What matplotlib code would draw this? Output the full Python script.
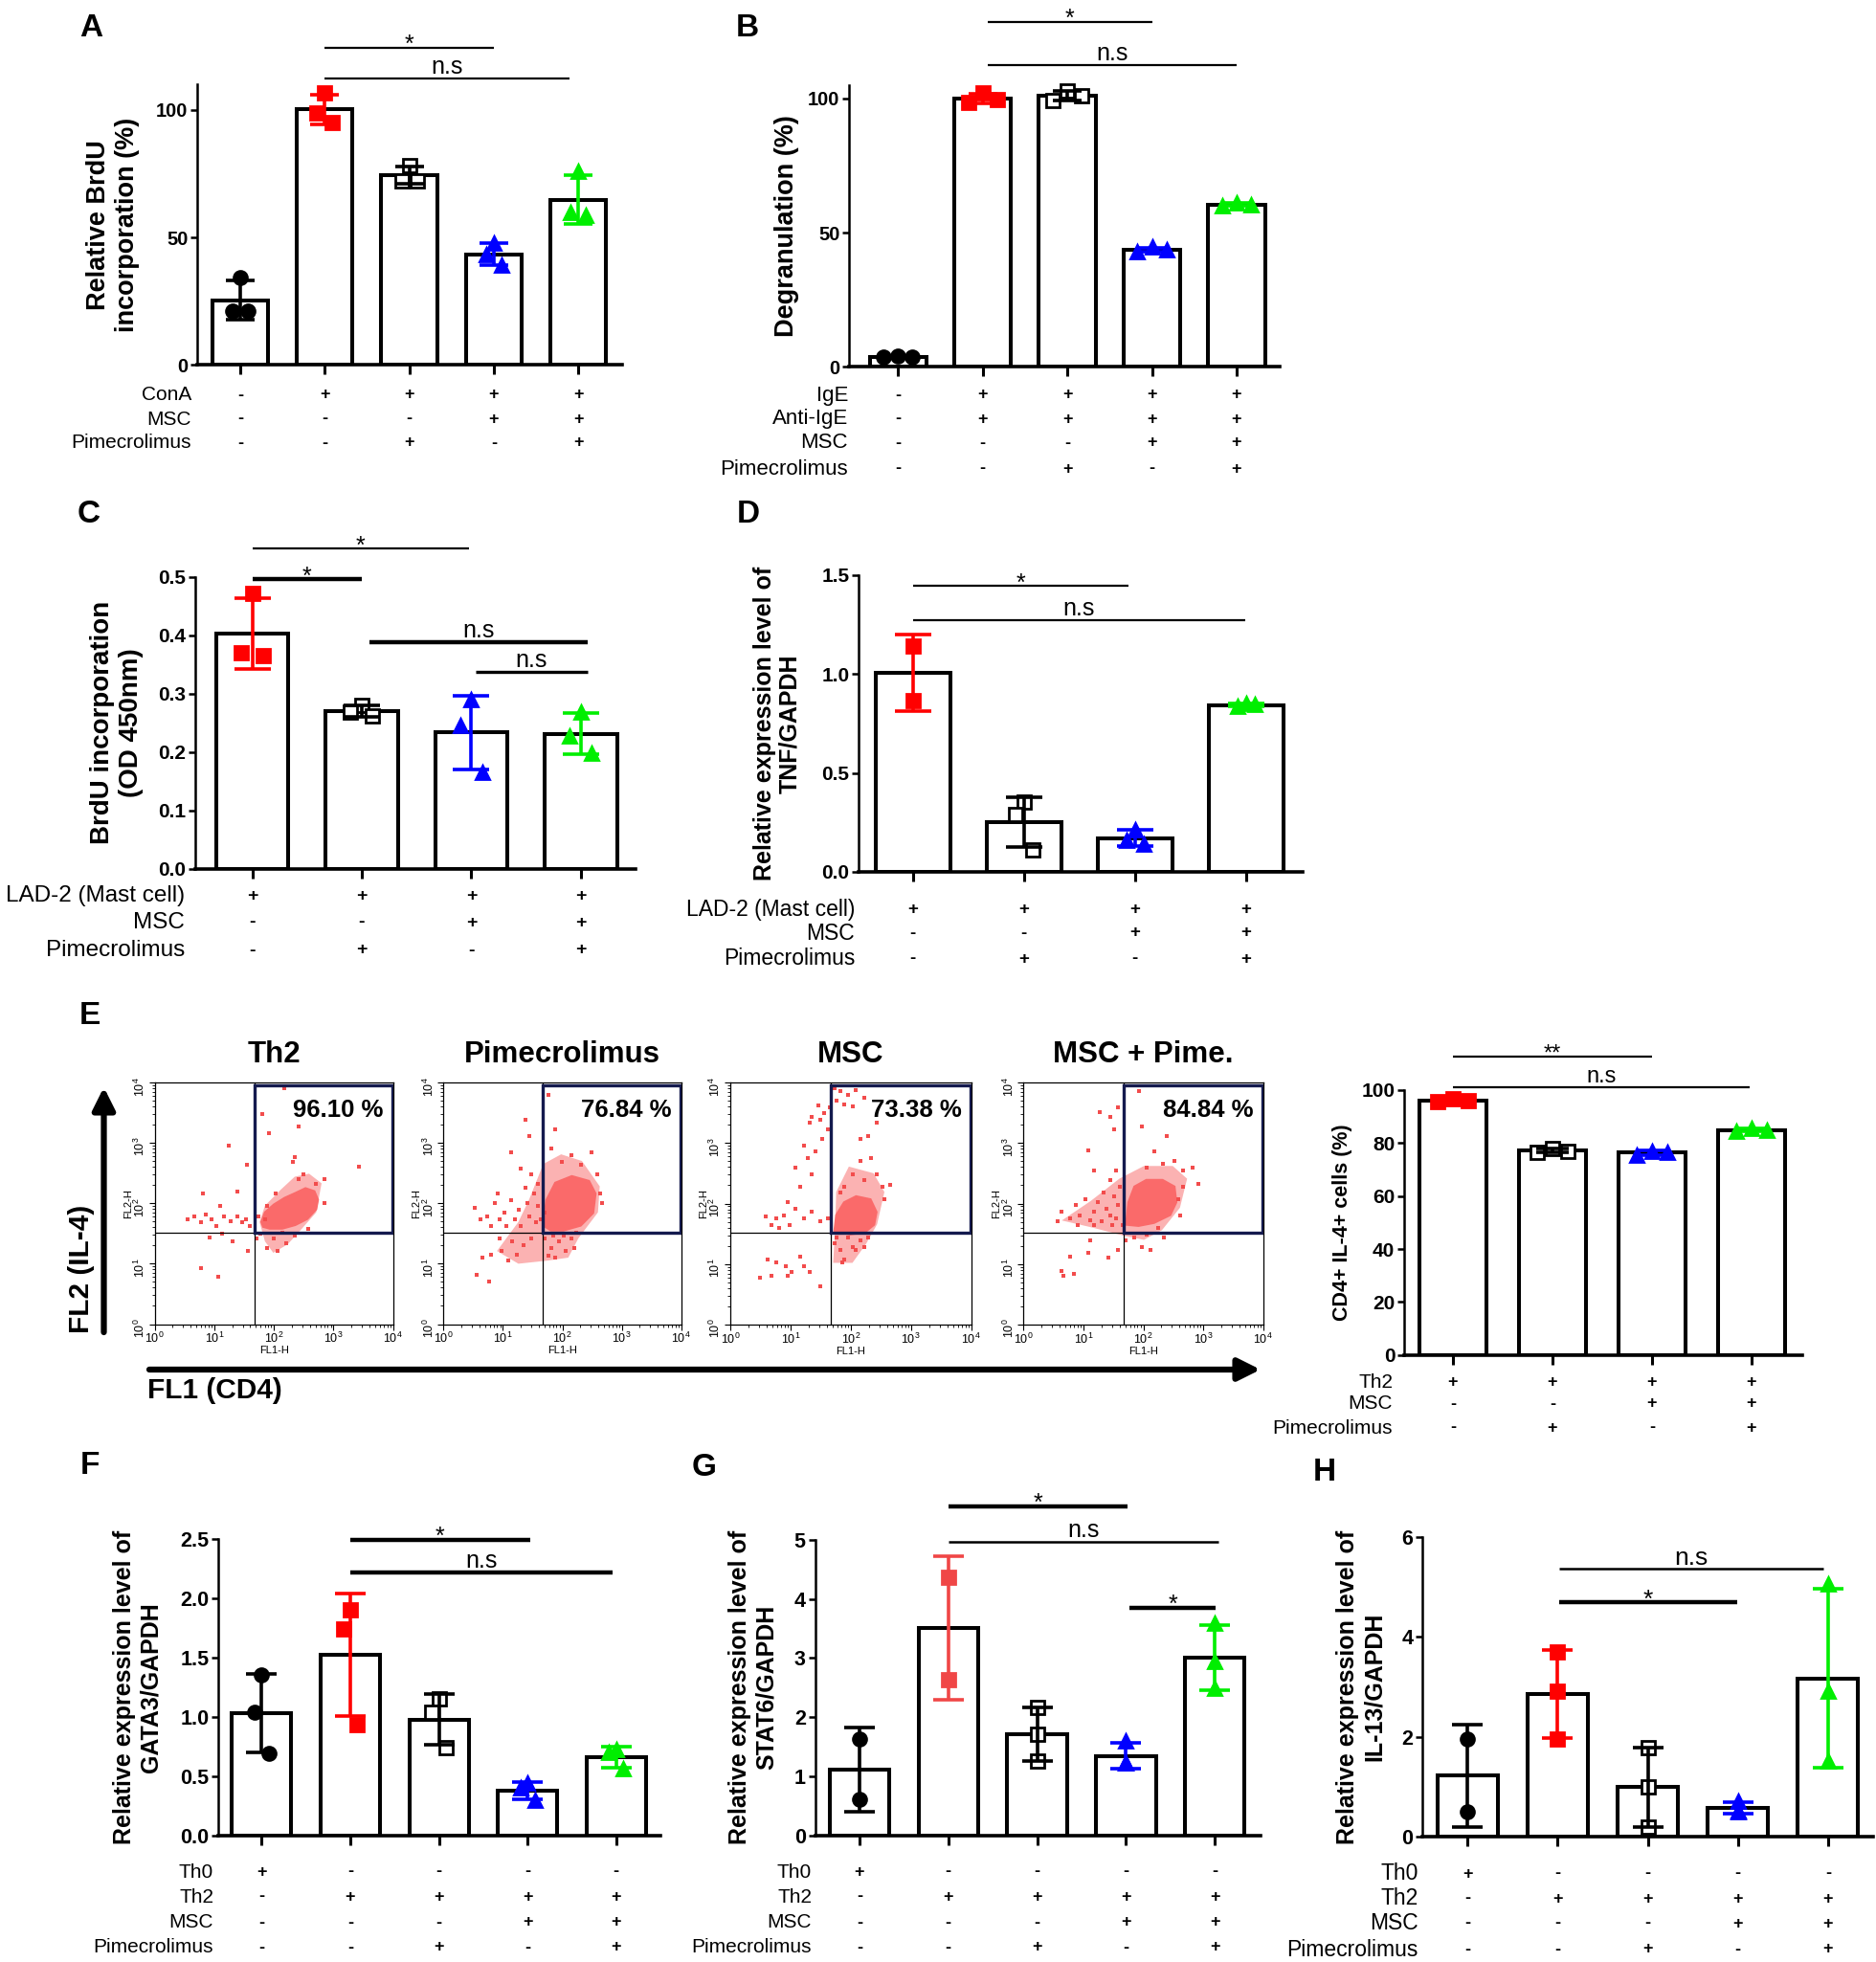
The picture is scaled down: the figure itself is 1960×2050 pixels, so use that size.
import numpy as np
import matplotlib
matplotlib.use("Agg")
import matplotlib.pyplot as plt
from matplotlib import font_manager, transforms
from matplotlib.patches import Rectangle, FancyArrowPatch, ArrowStyle

# ============================ DATA ============================
# Panel A
A_rows = ["ConA", "MSC", "Pimecrolimus"]
A_signs = [["-", "+", "+", "+", "+"],
           ["-", "-", "-", "+", "+"],
           ["-", "-", "+", "-", "+"]]
A_points = [[34.4, 21.0, 21.0], [106.5, 98.9, 95.1], [78.3, 72.3, 72.3],
            [47.9, 43.4, 39.0], [75.9, 59.6, 58.8]]
A_yticks = [0, 50, 100]
A_ylabel = "Relative BrdU\nincorporation (%)"

# Panel B
B_rows = ["IgE", "Anti-IgE", "MSC", "Pimecrolimus"]
B_signs = [["-", "+", "+", "+", "+"],
           ["-", "+", "+", "+", "+"],
           ["-", "-", "-", "+", "+"],
           ["-", "-", "+", "-", "+"]]
B_points = [[4.0, 3.5, 3.8], [102.0, 98.5, 99.5], [102.8, 99.2, 101.0],
            [44.5, 43.0, 43.5], [61.0, 60.0, 60.5]]
B_yticks = [0, 50, 100]
B_ylabel = "Degranulation (%)"

# Panel C
C_rows = ["LAD-2 (Mast cell)", "MSC", "Pimecrolimus"]
C_signs = [["+", "+", "+", "+"],
           ["-", "-", "+", "+"],
           ["-", "+", "-", "+"]]
C_points = [[0.472, 0.370, 0.365], [0.280, 0.268, 0.262],
            [0.290, 0.245, 0.165], [0.268, 0.228, 0.198]]
C_yticks = [0.0, 0.1, 0.2, 0.3, 0.4, 0.5]
C_ylabel = "BrdU incorporation\n(OD 450nm)"

# Panel D
D_rows = ["LAD-2 (Mast cell)", "MSC", "Pimecrolimus"]
D_signs = [["+", "+", "+", "+"],
           ["-", "-", "+", "+"],
           ["-", "+", "-", "+"]]
D_points = [[1.142, 0.868], [0.355, 0.29, 0.11], [0.215, 0.16, 0.14],
            [0.85, 0.835, 0.845]]
D_yticks = [0.0, 0.5, 1.0, 1.5]
D_ylabel = "Relative expression level of\nTNF/GAPDH"

# Panel E (bar chart)
E_rows = ["Th2", "MSC", "Pimecrolimus"]
E_signs = [["+", "+", "+", "+"],
           ["-", "-", "+", "+"],
           ["-", "+", "-", "+"]]
E_points = [[96.8, 95.8, 96.0], [78.0, 76.5, 77.0], [77.0, 75.5, 76.5],
            [85.5, 84.5, 85.0]]
E_yticks = [0, 20, 40, 60, 80, 100]
E_ylabel = "CD4+ IL-4+ cells (%)"

# Panel E (flow cytometry)
flow_titles = ["Th2", "Pimecrolimus", "MSC", "MSC + Pime."]
flow_pcts = ["96.10 %", "76.84 %", "73.38 %", "84.84 %"]
flow_gate_fl1 = 47
flow_gate_fl2 = 33

# outlines of dense core / medium-density halo, and individual dots,
# all as log10(FL1-H), log10(FL2-H)
th2_core_x = [1.79, 1.85, 2.00, 2.18, 2.36, 2.53, 2.68, 2.74, 2.71, 2.56,
              2.36, 2.14, 1.93, 1.82]
th2_core_y = [1.69, 1.85, 1.98, 2.09, 2.17, 2.25, 2.20, 2.06, 1.90, 1.74,
              1.64, 1.58, 1.58, 1.61]
th2_halo_x = [1.76, 1.85, 1.99, 2.23, 2.47, 2.71, 2.80, 2.59, 2.35, 2.11, 1.85]
th2_halo_y = [1.69, 1.37, 1.18, 1.32, 1.58, 1.85, 2.33, 2.49, 2.44, 2.22, 1.96]
th2_dot_x = [0.56, 0.67, 0.77, 0.85, 0.95, 1.03, 1.10, 1.17, 1.28, 1.38,
             1.46, 1.53, 1.60, 0.92, 1.13, 1.31, 0.77, 1.06, 1.56, 0.81,
             1.38, 1.24, 1.55, 1.81, 1.92, 2.17, 2.35, 2.42, 2.32, 2.49,
             3.43, 2.85, 1.71, 1.89, 2.06, 2.21, 1.99, 2.35, 1.78, 2.14,
             2.57, 2.85, 2.71, 2.42, 1.85, 1.74, 1.89, 2.03]
th2_dot_y = [1.74, 1.79, 1.68, 1.81, 1.74, 1.63, 1.95, 1.79, 1.71, 1.79,
             1.68, 1.74, 1.63, 1.44, 1.50, 1.37, 0.92, 0.79, 1.21, 2.17,
             2.19, 2.95, 2.63, 3.48, 3.16, 3.90, 2.77, 3.27, 2.69, 2.48,
             2.61, 2.40, 1.42, 1.26, 1.21, 1.34, 1.42, 1.47, 1.50, 1.52,
             1.58, 2.00, 2.32, 2.40, 1.74, 1.79, 1.95, 2.16]

pim_core_x = [1.68, 1.73, 1.88, 2.16, 2.45, 2.56, 2.52, 2.31, 2.02, 1.81]
pim_core_y = [1.63, 2.05, 2.34, 2.45, 2.37, 2.16, 1.84, 1.63, 1.55, 1.55]
pim_halo_x = [0.90, 1.26, 1.44, 1.68, 1.98, 2.33, 2.63, 2.60, 2.27, 2.10,
              1.74, 1.26]
pim_halo_y = [1.21, 1.69, 2.06, 2.65, 2.81, 2.70, 2.28, 1.85, 1.42, 1.10,
              1.05, 1.00]
pim_dot_x = [0.52, 0.62, 0.73, 0.80, 0.87, 0.95, 1.02, 1.05, 1.13, 1.20,
             1.27, 1.30, 1.38, 1.41, 1.45, 1.52, 1.56, 1.59, 1.48, 1.30,
             1.13, 1.45, 1.38, 0.91, 0.66, 0.80, 0.98, 1.09, 1.23, 1.34,
             1.48, 0.55, 0.77, 0.95, 1.16, 1.70, 1.81, 1.88, 1.95, 2.06,
             2.16, 2.24, 2.02, 1.77, 1.84, 2.20, 1.77, 1.88, 1.81, 1.99,
             2.16, 2.49, 2.31, 2.59, 2.63, 2.67, 1.59, 1.70, 1.63]
pim_dot_y = [1.92, 1.74, 1.79, 1.63, 2.00, 1.74, 1.84, 1.63, 2.05, 1.74,
             1.89, 1.63, 2.26, 2.00, 1.79, 2.16, 1.68, 1.95, 2.48, 2.58,
             2.85, 3.11, 3.38, 2.16, 1.10, 1.15, 1.21, 1.05, 1.15, 1.31,
             1.42, 0.81, 0.70, 1.42, 1.37, 1.42, 1.26, 1.10, 1.37, 1.21,
             1.42, 1.52, 1.47, 1.13, 1.47, 1.26, 3.80, 3.22, 2.90, 2.69,
             2.79, 2.85, 2.63, 2.48, 2.16, 2.00, 2.32, 1.84, 1.74]

msc_core_x = [1.73, 1.76, 1.89, 2.09, 2.33, 2.43, 2.39, 2.23, 1.99]
msc_core_y = [1.55, 1.81, 2.02, 2.12, 2.07, 1.86, 1.65, 1.52, 1.49]
msc_halo_x = [1.71, 1.74, 1.76, 1.97, 2.38, 2.56, 2.44, 2.26, 2.03]
msc_halo_y = [1.02, 1.55, 2.19, 2.61, 2.50, 2.19, 1.66, 1.34, 1.02]
msc_dot_x = [1.73, 1.83, 1.96, 2.09, 2.23, 1.76, 1.89, 2.03, 1.66, 1.56,
             1.46, 1.49, 1.62, 1.36, 1.32, 2.43, 2.29, 2.16,
             1.53, 1.42, 1.29, 1.22, 1.09, 1.36, 1.16, 2.16, 2.33, 2.03,
             2.23, 2.43, 2.53, 2.56, 2.66, 1.89, 1.83,
             0.96, 0.89, 0.76, 0.69, 0.59, 0.82, 1.09, 1.22, 1.36, 1.49,
             1.62, 0.99, 0.62, 0.76, 0.92, 1.02, 1.16, 1.22, 0.69, 0.50,
             1.32, 1.49, 0.96,
             1.73, 1.83, 1.89, 2.03, 2.16, 2.29, 1.76, 1.96, 2.09, 1.86, 2.23]
msc_dot_y = [3.91, 3.85, 3.80, 3.88, 3.75, 3.70, 3.64, 3.61, 3.59, 3.49,
             3.62, 3.38, 3.22, 3.43, 3.33, 3.33, 3.12, 3.07,
             3.07, 2.86, 2.75, 2.96, 2.60, 2.49, 2.28, 2.70, 2.75, 2.49,
             2.39, 2.49, 2.28, 2.07, 2.31, 2.28, 2.18,
             2.02, 1.81, 1.76, 1.65, 1.78, 1.60, 1.91, 1.76, 1.86, 1.70,
             1.76, 1.65, 1.07, 1.02, 0.97, 0.87, 1.13, 0.97, 0.81, 0.78,
             0.87, 0.63, 0.81,
             1.34, 1.23, 1.07, 1.28, 1.39, 1.44, 1.44, 1.44, 1.23, 1.02, 1.28]

mp_core_x = [1.71, 1.75, 1.85, 2.05, 2.32, 2.52, 2.55, 2.45, 2.18, 1.92]
mp_core_y = [1.65, 2.02, 2.28, 2.39, 2.39, 2.28, 2.02, 1.81, 1.68, 1.63]
mp_halo_x = [0.64, 1.12, 1.60, 2.01, 2.49, 2.73, 2.61, 2.31, 2.01, 1.71, 1.12]
mp_halo_y = [1.72, 2.04, 2.41, 2.62, 2.62, 2.41, 1.93, 1.56, 1.40, 1.46, 1.61]
mp_dot_x = [0.57, 0.64, 0.77, 0.87, 0.94, 1.04, 1.11, 1.18, 1.24, 1.31,
            1.38, 1.45, 1.51, 1.55, 1.58, 1.61, 1.65, 1.48, 1.18, 0.91,
            1.34, 1.45, 1.55, 1.18, 1.45, 1.51, 1.08, 1.28, 1.58,
            1.92, 1.98, 2.18, 2.39, 2.52, 2.66, 2.82, 2.92, 2.66, 2.59,
            2.62, 2.05, 2.32,
            1.71, 1.85, 1.98, 2.12, 2.05, 2.35, 1.58, 1.11, 1.08, 0.77,
            0.84, 0.67, 0.64, 1.41, 2.25]
mp_dot_y = [1.70, 1.86, 1.76, 1.97, 1.81, 2.07, 1.73, 1.86, 2.02, 1.70,
            1.91, 1.81, 2.12, 1.76, 1.97, 2.28, 1.65, 1.65, 1.65, 1.65,
            2.18, 2.39, 2.54, 2.54, 3.43, 3.22, 2.88, 3.51, 3.59,
            3.85, 3.28, 2.86, 3.12, 2.70, 2.54, 2.60, 2.33, 2.28, 2.07,
            1.81, 2.60, 2.65,
            1.39, 1.44, 1.28, 1.23, 1.49, 1.44, 1.23, 1.39, 1.18, 1.13,
            0.84, 0.81, 0.89, 1.10, 1.60]

# Panel F
TH_rows = ["Th0", "Th2", "MSC", "Pimecrolimus"]
TH_signs = [["+", "-", "-", "-", "-"],
            ["-", "+", "+", "+", "+"],
            ["-", "-", "-", "+", "+"],
            ["-", "-", "+", "-", "+"]]
F_points = [[1.355, 1.04, 0.694], [1.899, 1.743, 0.935], [1.154, 1.035, 0.743],
            [0.439, 0.397, 0.298], [0.72, 0.70, 0.56]]
F_yticks = [0.0, 0.5, 1.0, 1.5, 2.0, 2.5]
F_ylabel = "Relative expression level of\nGATA3/GAPDH"

# Panel G
G_points = [[1.62, 0.608], [4.36, 2.64], [2.16, 1.716, 1.26],
            [1.59, 1.22, 1.22], [3.59, 2.94, 2.49]]
G_yticks = [0, 1, 2, 3, 4, 5]
G_ylabel = "Relative expression level of\nSTAT6/GAPDH"

# Panel H
H_points = [[1.95, 0.50], [3.70, 2.92, 1.95], [1.78, 0.99, 0.20],
            [0.705, 0.52, 0.50], [5.07, 2.92, 1.52]]
H_yticks = [0, 2, 4, 6]
H_ylabel = "Relative expression level of\nIL-13/GAPDH"

# ============================ STYLE ============================
W, H = 1960, 2050
DPI = 100
names = {f.name for f in font_manager.fontManager.ttflist}
SANS = "Liberation Sans" if "Liberation Sans" in names else "DejaVu Sans"
plt.rcParams["font.family"] = SANS
plt.rcParams["mathtext.default"] = "regular"

RED = "#ff0000"
RED2 = "#f04646"
BLUE = "#0000ff"
GREEN = "#00ee00"
CIRC = ("black", "o", "black")
OSQ = ("black", "s", "white")
BTRI = (BLUE, "^", BLUE)
GTRI = (GREEN, "^", GREEN)


def RSQ(c=RED):
    return (c, "s", c)


fig = plt.figure(figsize=(W / DPI, H / DPI), dpi=DPI)
fig.patch.set_facecolor("white")


def fx(x):
    return x / W


def fy(y):
    return 1 - y / H


def bar_panel(box, points, styles, xlim, ylim, yticks, yfmt, rows, signs,
              row_ys, row_right, row_fs, sign_fs, ylabel, ylabel_x, ylabel_fs,
              tick_fs, sigs, sig_fs, jitter, barw=0.67, ms=10, ls=1.2):
    l, t, r, b = box
    ax = fig.add_axes([fx(l), fy(b), (r - l) / W, (b - t) / H])
    ax.patch.set_visible(False)
    bar_px = barw * (r - l) / (xlim[1] - xlim[0])
    cap = 0.25 * bar_px * 72 / DPI
    for i, (vals, st) in enumerate(zip(points, styles)):
        vals = np.asarray(vals, float)
        m = vals.mean()
        sd = vals.std(ddof=1)
        ax.bar(i, m, width=barw, color="white", edgecolor="black",
               linewidth=2.9, zorder=2)
        if len(vals) == 3:
            offs = np.array([0.0, -jitter, jitter])
        else:
            offs = np.zeros(len(vals))
        col, mk, fill = st
        ax.plot(i + offs, vals, linestyle="none", marker=mk, ms=ms, mfc=fill,
                mec=col, mew=2.0, zorder=3, clip_on=False)
        ax.errorbar(i, m, yerr=sd, fmt="none", ecolor=col, elinewidth=2.6,
                    capsize=cap, capthick=2.6, zorder=4)
    ax.set_xlim(xlim)
    ax.set_ylim(ylim)
    for s in ("top", "right"):
        ax.spines[s].set_visible(False)
    ax.spines["left"].set_linewidth(1.8)
    ax.spines["bottom"].set_linewidth(2.6)
    ax.set_xticks(range(len(points)))
    ax.set_xticklabels([])
    ax.tick_params(axis="x", length=7, width=2.2, direction="out")
    ax.set_yticks(yticks)
    ax.set_yticklabels([yfmt.format(v) for v in yticks], fontsize=tick_fs,
                       fontweight="bold")
    ax.tick_params(axis="y", length=5, width=1.8, pad=2)
    # condition table
    tr = transforms.blended_transform_factory(ax.transData, fig.transFigure)
    for lab, sg, ry in zip(rows, signs, row_ys):
        fig.text(fx(row_right), fy(ry), lab, ha="right", va="center",
                 fontsize=row_fs)
        for j, s in enumerate(sg):
            ax.text(j, fy(ry), s, transform=tr, ha="center", va="center",
                    fontsize=sign_fs, fontweight="bold", clip_on=False)
    # y label
    fig.text(fx(ylabel_x), fy((t + b) / 2), ylabel, rotation=90, ha="center",
             va="center", fontsize=ylabel_fs, fontweight="bold",
             linespacing=ls, multialignment="center")
    # significance bars
    for x0, x1, y, lab, lw in sigs:
        ax.plot([x0, x1], [y, y], color="black", lw=lw, clip_on=False,
                solid_capstyle="butt")
        if "*" in lab:
            off = 4.5 - 0.42 * sig_fs
        else:
            off = 3.5
        ax.annotate(lab, ((x0 + x1) / 2, y), xytext=(0, off),
                    textcoords="offset points", ha="center", va="baseline",
                    fontsize=sig_fs, annotation_clip=False)
    return ax


def letter(x, y, s):
    fig.text(fx(x), fy(y), s, ha="center", va="center", fontsize=24,
             fontweight="bold")


# ---------------- Panel A ----------------
bar_panel((206, 88, 650, 381.5), A_points, [CIRC, RSQ(), OSQ, BTRI, GTRI],
          (-0.51, 4.52), (0, 110), A_yticks, "{:d}", A_rows, A_signs,
          [413, 438, 463], 200, 15, 13, A_ylabel, 118, 19.5, 14.5,
          [(1, 3, 124.4, "*", 1.6), (1, 3.9, 112.4, "n.s", 1.6)], 18, 0.09,
          barw=0.66, ls=1.25)
letter(95, 30, "A")

# ---------------- Panel B ----------------
bar_panel((887, 88.7, 1337, 383.3), B_points, [CIRC, RSQ(), OSQ, BTRI, GTRI],
          (-0.58, 4.51), (0, 105), B_yticks, "{:d}", B_rows, B_signs,
          [413, 438, 463, 490], 886, 16, 13, B_ylabel, 822, 19.5, 14.5,
          [(1.06, 3.0, 128.5, "*", 1.6), (1.06, 4.0, 112.5, "n.s", 1.6)], 18,
          0.17)
letter(781, 30, "B")

# ---------------- Panel C ----------------
bar_panel((204, 602.7, 664, 907.7), C_points, [RSQ(), OSQ, BTRI, GTRI],
          (-0.52, 3.5), (0, 0.5), C_yticks, "{:.1f}", C_rows, C_signs,
          [936, 964, 993], 193, 17.5, 14, C_ylabel, 122, 20, 15,
          [(0, 1.98, 0.548, "*", 1.6), (0, 1.0, 0.496, "*", 3.2),
           (1.07, 3.06, 0.388, "n.s", 3.2), (2.04, 3.06, 0.338, "n.s", 2.4)],
          18, 0.1, barw=0.66, ls=1.25)
letter(93, 538, "C")

# ---------------- Panel D ----------------
bar_panel((897, 601, 1361, 911), D_points, [RSQ(), OSQ, BTRI, GTRI],
          (-0.49, 3.51), (0, 1.5), D_yticks, "{:.1f}", D_rows, D_signs,
          [950, 975, 1002], 893, 16.5, 13.5, D_ylabel, 812, 18, 15,
          [(0, 1.94, 1.445, "*", 1.6), (0, 2.99, 1.271, "n.s", 1.6)], 18, 0.08,
          ls=1.15)
letter(782, 538, "D")

# ---------------- Panel E: flow plots ----------------
letter(94, 1062, "E")
flow_boxes = [(161.6, 1131, 410.7, 1383.5), (463.4, 1131, 711.6, 1383.5),
              (762.9, 1131, 1014.6, 1384), (1069.3, 1131, 1319.8, 1384)]
flow_data = [(th2_core_x, th2_core_y, th2_halo_x, th2_halo_y, th2_dot_x, th2_dot_y),
             (pim_core_x, pim_core_y, pim_halo_x, pim_halo_y, pim_dot_x, pim_dot_y),
             (msc_core_x, msc_core_y, msc_halo_x, msc_halo_y, msc_dot_x, msc_dot_y),
             (mp_core_x, mp_core_y, mp_halo_x, mp_halo_y, mp_dot_x, mp_dot_y)]
for (l, t, r, b), title, pct, (cx, cy, hx, hy, dx, dy) in zip(
        flow_boxes, flow_titles, flow_pcts, flow_data):
    ax = fig.add_axes([fx(l), fy(b), (r - l) / W, (b - t) / H])
    ax.set_xscale("log")
    ax.set_yscale("log")
    ax.set_xlim(1, 1e4)
    ax.set_ylim(1, 1e4)
    ax.fill(10 ** np.array(hx), 10 ** np.array(hy), color="#fbb2b2",
            lw=0, zorder=1.5)
    ax.fill(10 ** np.array(cx), 10 ** np.array(cy), color="#fa6a6a",
            lw=1.5, ec="#fa6a6a", zorder=2)
    ax.scatter(10 ** np.array(dx), 10 ** np.array(dy), s=7, marker="s",
               color="#f24c4c", lw=0, zorder=2.2)
    ax.axvline(flow_gate_fl1, color="black", lw=0.9, zorder=3)
    ax.axhline(flow_gate_fl2, color="black", lw=0.9, zorder=3)
    ax.add_patch(Rectangle((flow_gate_fl1, flow_gate_fl2),
                           9700 - flow_gate_fl1, 8900 - flow_gate_fl2,
                           fill=False, ec="#141a4e", lw=2.4, zorder=4))
    ax.text(0.96, 0.885, pct, transform=ax.transAxes, ha="right", va="center",
            fontsize=18.5, fontweight="bold", zorder=5)
    for s in ax.spines.values():
        s.set_linewidth(0.9)
    ax.set_xticks([1, 10, 100, 1000, 10000])
    ax.set_yticks([1, 10, 100, 1000, 10000])
    ax.tick_params(which="major", length=4, width=0.8, labelsize=9, pad=1.5)
    ax.tick_params(which="minor", length=2.2, width=0.6)
    ax.tick_params(axis="y", labelrotation=90)
    ax.set_xlabel("FL1-H", fontsize=8, labelpad=0)
    ax.set_ylabel("FL2-H", fontsize=8, labelpad=0)
    fig.text(fx((l + r) / 2), fy(1101.7), title, ha="center", va="center",
             fontsize=22.5, fontweight="bold")

fig.add_artist(FancyArrowPatch((fx(108.5), fy(1392)), (fx(108.5), fy(1136)),
                               transform=fig.transFigure,
                               arrowstyle=ArrowStyle("-|>", head_length=1.0,
                                                     head_width=0.5),
                               mutation_scale=14, lw=4.5, color="black",
                               shrinkA=0, shrinkB=0))
fig.add_artist(FancyArrowPatch((fx(156), fy(1431)), (fx(1317), fy(1431)),
                               transform=fig.transFigure,
                               arrowstyle=ArrowStyle("-|>", head_length=1.0,
                                                     head_width=0.5),
                               mutation_scale=14, lw=4.5, color="black",
                               shrinkA=0, shrinkB=0))
fig.text(fx(85), fy(1326), "FL2 (IL-4)", rotation=90, ha="center", va="center",
         fontsize=21.5, fontweight="bold")
fig.text(fx(154), fy(1453), "FL1 (CD4)", ha="left", va="center",
         fontsize=21.5, fontweight="bold")

# ---------------- Panel E: bar chart ----------------
bar_panel((1467, 1139, 1883, 1415.7), E_points, [RSQ(), OSQ, BTRI, GTRI],
          (-0.49, 3.51), (0, 100), E_yticks, "{:d}", E_rows, E_signs,
          [1444, 1467, 1492], 1455, 15, 13, E_ylabel, 1402, 15.5, 15,
          [(0, 2, 112.7, "**", 1.6), (0, 2.98, 101.1, "n.s", 1.6)], 17, 0.15)

# ---------------- Panel F ----------------
bar_panel((228, 1608, 690, 1917.5), F_points, [CIRC, RSQ(), OSQ, BTRI, GTRI],
          (-0.49, 4.5), (0, 2.5), F_yticks, "{:.1f}", TH_rows, TH_signs,
          [1956, 1982, 2009, 2035], 223, 15, 13, F_ylabel, 144, 18, 15.5,
          [(1, 3.03, 2.494, "*", 3.2), (1, 3.96, 2.217, "n.s", 3.2)], 18, 0.08)
letter(94, 1532, "F")

# ---------------- Panel G ----------------
bar_panel((851.5, 1608.8, 1316.6, 1917.5), G_points,
          [CIRC, RSQ(RED2), OSQ, BTRI, GTRI],
          (-0.5, 4.51), (0, 5), G_yticks, "{:d}", TH_rows, TH_signs,
          [1956, 1982, 2009, 2035], 848, 15, 13, G_ylabel, 787, 18, 15.5,
          [(1, 3.02, 5.57, "*", 3.2), (1, 4.04, 4.97, "n.s", 1.8),
           (3.04, 4.01, 3.85, "*", 3.2)], 18, 0.0)
letter(736, 1533, "G")

# ---------------- Panel H ----------------
bar_panel((1486, 1606, 1957, 1919), H_points, [CIRC, RSQ(), OSQ, BTRI, GTRI],
          (-0.5, 4.5), (0, 6), H_yticks, "{:d}", TH_rows, TH_signs,
          [1958, 1984, 2010, 2037], 1482, 16.5, 13, H_ylabel, 1422, 18, 15.5,
          [(1.02, 3.95, 5.36, "n.s", 1.8), (1.02, 2.99, 4.69, "*", 3.2)], 19,
          0.0)
letter(1383.5, 1538.6, "H")

fig.savefig("out.png", dpi=DPI, facecolor="white")
